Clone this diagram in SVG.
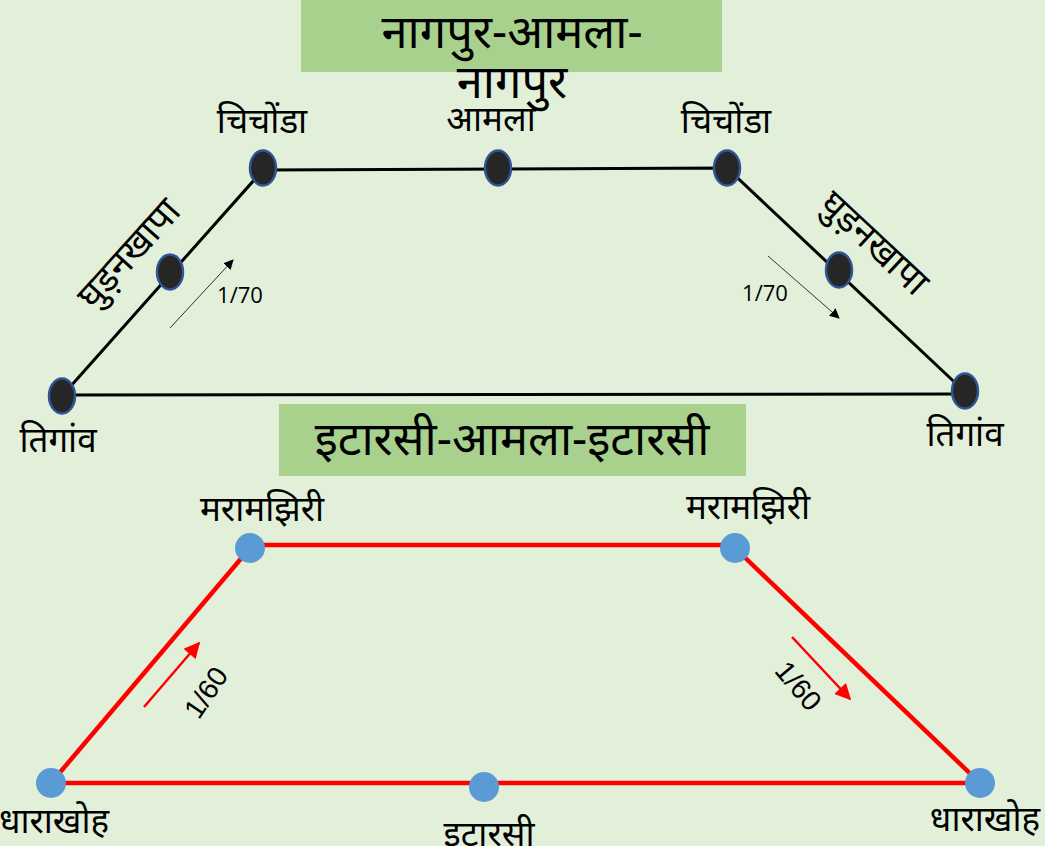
<svg xmlns="http://www.w3.org/2000/svg" width="1045" height="846" viewBox="0 0 1045 846">
<defs>
<style>
.t{font-family:"Noto Sans","Liberation Sans",sans-serif;fill:#000;text-anchor:middle}
.lbl{font-size:35px}
.rot{font-size:37px}
.ttl{font-size:47px}
.num{font-family:"Open Sans","Liberation Sans",sans-serif;font-size:22px;fill:#000;text-anchor:middle}
.num2{font-family:"Liberation Sans",sans-serif;font-size:28px;fill:#000;text-anchor:middle}
.bn{fill:#262626;stroke:#2f5597;stroke-width:2.5}
.rn{fill:#5b9bd5}
.bl{stroke:#000;stroke-width:3;fill:none}
.rl{stroke:#ff0000;stroke-width:4.5;fill:none}
</style>
<marker id="ab" viewBox="0 0 10 10" refX="9" refY="5" markerWidth="10" markerHeight="10" markerUnits="userSpaceOnUse" orient="auto"><path d="M0,0 L10,5 L0,10 z" fill="#000"/></marker>
<marker id="ar" viewBox="0 0 10 10" refX="9" refY="5" markerWidth="18" markerHeight="16" markerUnits="userSpaceOnUse" orient="auto"><path d="M0,0 L10,5 L0,10 z" fill="#ff0000"/></marker>
</defs>
<rect x="0" y="0" width="1045" height="846" fill="#e2efd9"/>
<g id="title1"><rect x="301" y="0" width="421" height="72" fill="#a9d18e"/><text class="t ttl" x="512" y="48">नागपुर-आमला-</text><text class="t ttl" x="512" y="98">नागपुर</text></g>
<g id="title2"><rect x="279" y="404" width="467" height="72" fill="#a9d18e"/><text class="t ttl" x="512" y="455">इटारसी-आमला-इटारसी</text></g>
<g id="connectors">
<polyline class="bl" points="62,396 263,170 727,168 965,392"/>
<line class="bl" x1="62" y1="395" x2="965" y2="394"/>
<line x1="170" y1="328" x2="233" y2="260" stroke="#333" stroke-width="1" marker-end="url(#ab)"/>
<line x1="768" y1="256" x2="839" y2="318" stroke="#333" stroke-width="1" marker-end="url(#ab)"/>
<polyline class="rl" points="51,783 250,548"/>
<line class="rl" x1="250" y1="545" x2="735" y2="545"/>
<line class="rl" x1="735" y1="548" x2="980" y2="783"/>
<line class="rl" x1="51" y1="783" x2="980" y2="783"/>
<line x1="144" y1="707" x2="199" y2="643" stroke="#ff0000" stroke-width="2.5" marker-end="url(#ar)"/>
<line x1="792" y1="637" x2="850" y2="699" stroke="#ff0000" stroke-width="2.5" marker-end="url(#ar)"/>
</g>
<g id="chichonda-l"><ellipse class="bn" cx="263" cy="168" rx="13" ry="17.5"/><text class="t lbl" x="262" y="133">चिचोंडा</text></g>
<g id="amla"><ellipse class="bn" cx="498" cy="168" rx="13" ry="17.5"/><text class="t lbl" x="491" y="131">आमला</text></g>
<g id="chichonda-r"><ellipse class="bn" cx="727" cy="168" rx="13" ry="17.5"/><text class="t lbl" x="726" y="133">चिचोंडा</text></g>
<g id="ghudankhapa-l"><ellipse class="bn" cx="170" cy="272" rx="13" ry="17.5"/><text class="t rot" transform="translate(138,262) rotate(-48)">घुड़नखापा</text></g>
<g id="ghudankhapa-r"><ellipse class="bn" cx="839" cy="270" rx="13" ry="17.5"/><text class="t rot" transform="translate(866,252) rotate(43)">घुड़नखापा</text></g>
<g id="tigaon-l"><ellipse class="bn" cx="62" cy="396" rx="13" ry="17.5"/><text class="t lbl" x="58" y="452">तिगांव</text></g>
<g id="tigaon-r"><ellipse class="bn" cx="965" cy="391" rx="13" ry="17.5"/><text class="t lbl" x="965" y="446">तिगांव</text></g>
<text class="num" x="240" y="303">1/70</text>
<text class="num" x="765" y="301">1/70</text>
<g id="maramjhiri-l"><circle class="rn" cx="250" cy="548" r="15"/><text class="t lbl" x="262" y="521">मरामझिरी</text></g>
<g id="maramjhiri-r"><circle class="rn" cx="735" cy="548" r="15"/><text class="t lbl" x="748" y="519">मरामझिरी</text></g>
<g id="dharakhoh-l"><circle class="rn" cx="51" cy="783" r="15"/><text class="t lbl" x="54" y="833">धाराखोह</text></g>
<g id="itarsi"><circle class="rn" cx="484" cy="787" r="15"/><text class="t lbl" x="489" y="846">इटारसी</text></g>
<g id="dharakhoh-r"><circle class="rn" cx="980" cy="783" r="15"/><text class="t lbl" x="985" y="831">धाराखोह</text></g>
<text class="num2" transform="translate(214,698) rotate(-56)">1/60</text>
<text class="num2" transform="translate(791,692) rotate(50)">1/60</text>
</svg>
